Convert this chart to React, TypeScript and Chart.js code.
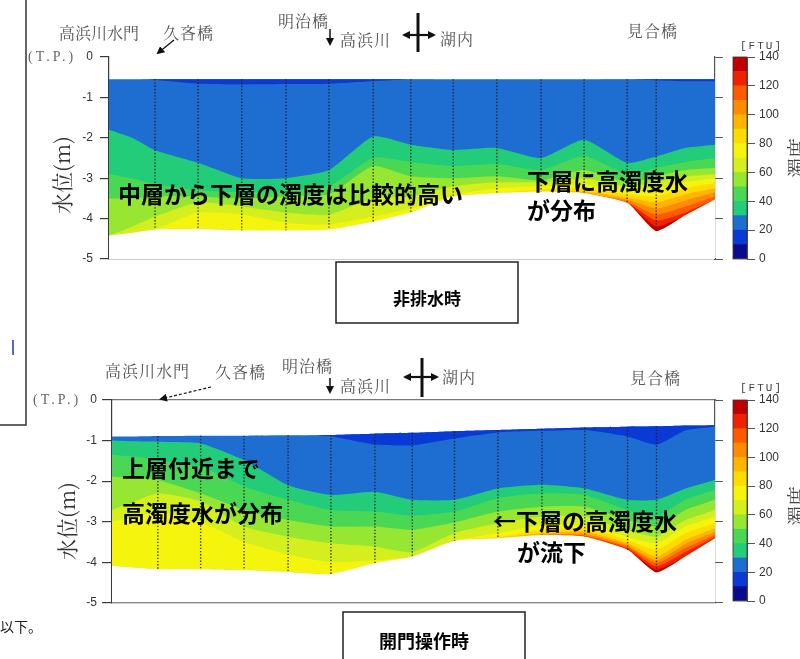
import React, { useEffect, useRef } from "react";
import { Chart, registerables } from "chart.js";

Chart.register(...registerables);

// relative distance along the longitudinal section (0 = left end, 100 = right end)
const sectionX = [0, 3.8, 7.6, 14.7, 21.9, 29.2, 36.3, 43.6, 49.8, 56.8, 64.0, 71.3, 78.4, 85.5, 90.3, 95.1, 100];
// survey stations (dotted verticals) = indexes into sectionX
const stationIndex = [2, 3, 4, 5, 6, 7, 8, 9, 10, 11, 12, 13, 14];

const depthTicks = [0, -1, -2, -3, -4, -5];
const ftuTicks = [0, 20, 40, 60, 80, 100, 120, 140];
const ftuBandLow = [0, 10, 20, 30, 40, 50, 60, 70, 80, 90, 100, 110, 120, 130];
const ftuColors = [
  "#0a0a8c", "#0a3ad6", "#1e6ed2", "#22cc78", "#4ad854", "#96e632", "#d4ee1e",
  "#f4f40c", "#ffdc00", "#ffb400", "#ff8c00", "#ff5a00", "#ee2200", "#c00000",
];

// ---- Panel 1 : 非排水時 (depth T.P. m) ----
const surface1 = [-0.55, -0.55, -0.55, -0.55, -0.55, -0.55, -0.55, -0.55, -0.55, -0.55, -0.55, -0.55, -0.55, -0.55, -0.55, -0.55, -0.55];
const bed1 = [-4.42, -4.35, -4.27, -4.26, -4.29, -4.29, -4.27, -4.07, -3.84, -3.45, -3.37, -3.33, -3.37, -3.61, -4.31, -3.92, -3.53];
const dark1 = [-0.55, -0.55, -0.57, -0.66, -0.68, -0.67, -0.66, -0.6, -0.56, -0.55, -0.55, -0.55, -0.55, -0.56, -0.58, -0.6, -0.6];
const b30_1 = [-1.8, -2.0, -2.31, -2.62, -3.0, -3.0, -2.8, -1.97, -2.17, -2.3, -2.25, -2.5, -2.05, -2.62, -2.46, -2.25, -2.17];
const b40_1 = [-2.9, -3.0, -3.15, -3.3, -3.35, -3.3, -3.2, -2.5, -2.6, -2.7, -2.65, -2.8, -2.45, -2.9, -2.75, -2.6, -2.5];
const b50_1 = [-3.5, -3.5, -3.45, -3.45, -3.5, -3.45, -3.4, -2.7, -2.95, -3.0, -2.95, -3.05, -2.8, -3.1, -2.95, -2.8, -2.75];
const b60_1 = [-4.42, -4.2, -3.95, -3.6, -3.7, -3.85, -3.9, -3.5, -3.45, -3.2, -3.1, -3.1, -3.0, -3.2, -3.1, -2.95, -2.9];
const b70_1 = [-4.42, -4.35, -4.27, -3.85, -3.9, -4.1, -4.15, -3.95, -3.75, -3.42, -3.25, -3.2, -3.15, -3.3, -3.25, -3.1, -3.0];
const b80_1 = [-4.42, -4.35, -4.27, -4.26, -4.29, -4.29, -4.27, -4.07, -3.84, -3.45, -3.37, -3.28, -3.25, -3.4, -3.45, -3.25, -3.12];
const b90_1 = [-4.42, -4.35, -4.27, -4.26, -4.29, -4.29, -4.27, -4.07, -3.84, -3.45, -3.37, -3.33, -3.33, -3.48, -3.6, -3.4, -3.25];
const b100_1 = [-4.42, -4.35, -4.27, -4.26, -4.29, -4.29, -4.27, -4.07, -3.84, -3.45, -3.37, -3.33, -3.37, -3.53, -3.75, -3.55, -3.35];
const b110_1 = [-4.42, -4.35, -4.27, -4.26, -4.29, -4.29, -4.27, -4.07, -3.84, -3.45, -3.37, -3.33, -3.37, -3.58, -3.9, -3.7, -3.45];
const b120_1 = [-4.42, -4.35, -4.27, -4.26, -4.29, -4.29, -4.27, -4.07, -3.84, -3.45, -3.37, -3.33, -3.37, -3.61, -4.05, -3.85, -3.53];
const b130_1 = [-4.42, -4.35, -4.27, -4.26, -4.29, -4.29, -4.27, -4.07, -3.84, -3.45, -3.37, -3.33, -3.37, -3.61, -4.2, -3.92, -3.53];

// ---- Panel 2 : 開門操作時 ----
const surface2 = [-0.9, -0.9, -0.89, -0.88, -0.88, -0.87, -0.86, -0.83, -0.81, -0.77, -0.74, -0.71, -0.68, -0.66, -0.65, -0.63, -0.62];
const bed2 = [-4.09, -4.13, -4.17, -4.17, -4.19, -4.24, -4.29, -4.02, -3.86, -3.47, -3.41, -3.33, -3.37, -3.69, -4.25, -3.86, -3.41];
const dark2 = [-0.9, -0.9, -0.89, -0.88, -0.88, -0.87, -0.9, -1.1, -1.12, -0.95, -0.8, -0.76, -0.74, -0.9, -1.1, -0.75, -0.66];
const b30_2 = [-1.0, -1.02, -1.03, -1.07, -1.48, -2.1, -2.34, -2.26, -2.46, -2.46, -2.18, -2.09, -2.18, -2.46, -2.46, -2.18, -1.97];
const b40_2 = [-1.35, -1.4, -1.48, -1.64, -2.13, -2.46, -2.71, -2.75, -2.85, -2.75, -2.42, -2.3, -2.34, -2.71, -2.87, -2.46, -2.22];
const b50_2 = [-1.89, -1.92, -1.97, -2.3, -2.71, -2.96, -3.12, -3.12, -3.2, -3.02, -2.75, -2.63, -2.63, -2.96, -3.12, -2.71, -2.46];
const b60_2 = [-2.71, -2.5, -2.3, -2.5, -3.12, -3.37, -3.53, -3.61, -3.75, -3.28, -3.04, -2.87, -2.87, -3.2, -3.37, -2.96, -2.71];
const b70_2 = [-3.0, -2.9, -2.75, -3.0, -3.5, -3.8, -4.0, -3.95, -3.86, -3.47, -3.28, -3.08, -3.08, -3.37, -3.53, -3.12, -2.87];
const b80_2 = [-4.09, -4.13, -4.17, -4.17, -4.19, -4.24, -4.29, -4.02, -3.86, -3.47, -3.38, -3.2, -3.16, -3.45, -3.69, -3.28, -3.04];
const b90_2 = [-4.09, -4.13, -4.17, -4.17, -4.19, -4.24, -4.29, -4.02, -3.86, -3.47, -3.41, -3.28, -3.24, -3.53, -3.86, -3.45, -3.16];
const b100_2 = [-4.09, -4.13, -4.17, -4.17, -4.19, -4.24, -4.29, -4.02, -3.86, -3.47, -3.41, -3.33, -3.3, -3.58, -3.95, -3.55, -3.25];
const b110_2 = [-4.09, -4.13, -4.17, -4.17, -4.19, -4.24, -4.29, -4.02, -3.86, -3.47, -3.41, -3.33, -3.34, -3.62, -4.02, -3.65, -3.32];
const b120_2 = [-4.09, -4.13, -4.17, -4.17, -4.19, -4.24, -4.29, -4.02, -3.86, -3.47, -3.41, -3.33, -3.37, -3.66, -4.1, -3.75, -3.38];
const b130_2 = [-4.09, -4.13, -4.17, -4.17, -4.19, -4.24, -4.29, -4.02, -3.86, -3.47, -3.41, -3.33, -3.37, -3.69, -4.18, -3.86, -3.41];

const levels1 = [b30_1, b40_1, b50_1, b60_1, b70_1, b80_1, b90_1, b100_1, b110_1, b120_1, b130_1];
const levels2 = [b30_2, b40_2, b50_2, b60_2, b70_2, b80_2, b90_2, b100_2, b110_2, b120_2, b130_2];

const AXIS = "#3a3a3a";
const TICK_FONT = { family: "'Liberation Sans', Arial, sans-serif", size: 12 };
const TENSION = 0.18;

type PanelProps = {
  top: number; width: number; height: number;
  areaTop: number; areaBottom: number; areaLeft: number; areaRight: number;
  surface: number[]; bed: number[]; dark: number[]; levels: number[][];
  topBorder: boolean; tickLen: number; tickPad: number;
};

function ContourPanel(p: PanelProps) {
  const ref = useRef<HTMLCanvasElement>(null);
  useEffect(() => {
    const pts = (arr: number[]) => arr.map((y, i) => ({ x: sectionX[i], y }));
    const bedIndex = 2 + p.levels.length;
    const ds: any[] = [];
    ds.push({ data: pts(p.surface), fill: { target: bedIndex }, backgroundColor: ftuColors[2], borderWidth: 0 });
    ds.push({ data: pts(p.dark), fill: "-1", backgroundColor: ftuColors[1], borderWidth: 0 });
    p.levels.forEach((lv, k) =>
      ds.push({ data: pts(lv), fill: { target: bedIndex }, backgroundColor: ftuColors[3 + k], borderWidth: 0 })
    );
    ds.push({ data: pts(p.bed), fill: "start", backgroundColor: "#ffffff", borderWidth: 0 });
    stationIndex.forEach((i) =>
      ds.push({
        data: [{ x: sectionX[i], y: p.surface[i] }, { x: sectionX[i], y: p.bed[i] }],
        fill: false, borderColor: "rgba(30,30,30,0.85)", borderWidth: 1.4, borderDash: [1.4, 1.8],
      })
    );
    ds.forEach((d, i) => { d.order = -i; d.pointRadius = 0; d.pointHoverRadius = 0; d.tension = i <= bedIndex ? TENSION : 0; });

    const chart = new Chart(ref.current!, {
      type: "line",
      data: { datasets: ds },
      options: {
        animation: false, responsive: false, maintainAspectRatio: false, events: [],
        layout: { padding: { top: p.areaTop, bottom: p.height - p.areaBottom, left: 0, right: 0 } },
        plugins: { legend: { display: false }, tooltip: { enabled: false } },
        scales: {
          x: {
            type: "linear", min: 0, max: 100, position: "bottom", z: 2,
            ticks: { display: false }, grid: { display: false },
            border: { display: true, color: AXIS, width: 1.2 },
            afterFit: (s: any) => { s.height = 0; },
          },
          xTop: {
            type: "linear", min: 0, max: 100, position: "top", z: 2,
            ticks: { display: false }, grid: { display: false },
            border: { display: p.topBorder, color: "#777", width: 1.2 },
            afterFit: (s: any) => { s.height = 0; },
          },
          y: {
            type: "linear", min: -5, max: 0, position: "left", z: 2,
            afterBuildTicks: (s: any) => { s.ticks = depthTicks.map((v) => ({ value: v })); },
            ticks: { color: "#333", font: TICK_FONT, padding: p.tickPad },
            grid: { drawOnChartArea: false, tickLength: p.tickLen, color: AXIS, lineWidth: 1.2 },
            border: { display: true, color: AXIS, width: 1.2 },
            afterFit: (s: any) => { s.width = p.areaLeft; },
          },
          yRight: {
            type: "linear", min: -5, max: 0, position: "right", z: 2,
            afterBuildTicks: (s: any) => { s.ticks = depthTicks.map((v) => ({ value: v })); },
            ticks: { display: false },
            grid: { drawOnChartArea: false, tickLength: 8, color: "#555", lineWidth: 1 },
            border: { display: true, color: "#555", width: 1.2 },
            afterFit: (s: any) => { s.width = p.width - p.areaRight; },
          },
        },
      } as any,
    });
    return () => chart.destroy();
  }, []);
  return (
    <canvas ref={ref} width={p.width} height={p.height}
      style={{ position: "absolute", left: 0, top: p.top, width: p.width, height: p.height }} />
  );
}

function ColorBar({ top, height, areaTop, areaBottom }: { top: number; height: number; areaTop: number; areaBottom: number }) {
  const ref = useRef<HTMLCanvasElement>(null);
  const left = 720, width = 80, barLeft = 733, barRight = 747;
  useEffect(() => {
    const chart = new Chart(ref.current!, {
      type: "bar",
      data: {
        labels: ["FTU"],
        datasets: ftuColors.map((c, i) => ({
          data: [(i < ftuBandLow.length - 1 ? ftuBandLow[i + 1] : 140) - ftuBandLow[i]],
          backgroundColor: c, borderWidth: 0, barPercentage: 1, categoryPercentage: 1,
        })),
      },
      options: {
        animation: false, responsive: false, maintainAspectRatio: false, events: [],
        layout: { padding: { top: areaTop, bottom: height - areaBottom, left: barLeft - left, right: 0 } },
        plugins: { legend: { display: false }, tooltip: { enabled: false } },
        scales: {
          x: { stacked: true, display: false },
          y: {
            stacked: true, min: 0, max: 140, position: "right",
            afterBuildTicks: (s: any) => { s.ticks = ftuTicks.map((v) => ({ value: v })); },
            ticks: { color: "#333", font: TICK_FONT, padding: 4 },
            grid: { drawOnChartArea: false, tickLength: 8, color: "#555" },
            border: { display: true, color: "#555", width: 1 },
            afterFit: (s: any) => { s.width = width - (barRight - left); },
          },
        },
      } as any,
    });
    return () => chart.destroy();
  }, []);
  return (
    <canvas ref={ref} width={width} height={height}
      style={{ position: "absolute", left, top, width, height }} />
  );
}

function T({ x, y, text, size = 16, weight = 400, color = "#555", family = "'Noto Sans CJK JP', sans-serif", ls = 0, rotate = false }: any) {
  const style: any = {
    position: "absolute", left: x, top: y, fontSize: size, fontWeight: weight, color, fontFamily: family,
    lineHeight: 1, whiteSpace: "nowrap", letterSpacing: ls,
    transform: rotate ? "translate(-50%,-50%) rotate(-90deg)" : "translateY(-50%)",
  };
  return <div style={style}>{text}</div>;
}

const BOLD = "'Noto Sans CJK JP', sans-serif";
const MINCHO = "'Noto Serif CJK JP', 'Liberation Serif', serif";

export default function App() {
  return (
    <div style={{ position: "absolute", left: 0, top: 0, width: 800, height: 659, overflow: "hidden", background: "#fff" }}>
      <ContourPanel top={0} width={740} height={275} areaTop={57} areaBottom={259} areaLeft={109} areaRight={715}
        surface={surface1} bed={bed1} dark={dark1} levels={levels1} topBorder={false} tickLen={9} tickPad={7} />
      <ContourPanel top={340} width={740} height={275} areaTop={60} areaBottom={263} areaLeft={112} areaRight={715}
        surface={surface2} bed={bed2} dark={dark2} levels={levels2} topBorder={true} tickLen={10} tickPad={5} />
      <ColorBar top={40} height={240} areaTop={17} areaBottom={219} />
      <ColorBar top={380} height={240} areaTop={20} areaBottom={221} />

      <svg width={800} height={659} style={{ position: "absolute", left: 0, top: 0, pointerEvents: "none" }}>
        <defs>
          <marker id="ah" markerWidth="8" markerHeight="8" refX="6" refY="4" orient="auto" markerUnits="userSpaceOnUse">
            <path d="M0,0 L8,4 L0,8 z" fill="#111" />
          </marker>
          <marker id="ahs" markerWidth="8" markerHeight="8" refX="6" refY="4" orient="auto-start-reverse" markerUnits="userSpaceOnUse">
            <path d="M0,0 L8,4 L0,8 z" fill="#111" />
          </marker>
        </defs>
        <polyline points="26,0 26,425 0,425" fill="none" stroke="#333" strokeWidth={1.5} />
        <line x1={13} y1={340} x2={13} y2={355} stroke="#5566cc" strokeWidth={2} />
        <rect x={733} y={57} width={14} height={202} fill="none" stroke="#333" strokeWidth={0.8} />
        <rect x={733} y={400} width={14} height={201} fill="none" stroke="#333" strokeWidth={0.8} />
        {/* panel 1 markers */}
        <line x1={174} y1={40} x2={158} y2={53} stroke="#111" strokeWidth={1.3} markerEnd="url(#ah)" />
        <line x1={330} y1={29} x2={330} y2={44} stroke="#111" strokeWidth={1.5} markerEnd="url(#ah)" />
        <line x1={418} y1={13} x2={418} y2={52} stroke="#111" strokeWidth={3} />
        <line x1={404} y1={35} x2={434} y2={35} stroke="#111" strokeWidth={2.2} markerStart="url(#ahs)" markerEnd="url(#ah)" />
        {/* panel 2 markers */}
        <line x1={211} y1={387} x2={161} y2={399} stroke="#111" strokeWidth={1.2} strokeDasharray="3,2" markerEnd="url(#ah)" />
        <line x1={330} y1={378} x2={330} y2={392} stroke="#111" strokeWidth={1.5} markerEnd="url(#ah)" />
        <line x1={422} y1={358} x2={422} y2={397} stroke="#111" strokeWidth={3} />
        <line x1={405} y1={377} x2={437} y2={377} stroke="#111" strokeWidth={2.2} markerStart="url(#ahs)" markerEnd="url(#ah)" />
        {/* caption boxes */}
        <rect x={336} y={262} width={182} height={61} fill="#fff" stroke="#222" strokeWidth={1.5} />
        <rect x={343} y={612} width={182} height={60} fill="#fff" stroke="#222" strokeWidth={1.5} />
      </svg>

      {/* panel 1 labels */}
      <T x={59} y={33} text="高浜川水門" family={MINCHO} />
      <T x={163} y={33} text="久吝橋" family={MINCHO} ls={1} />
      <T x={278} y={21} text="明治橋" family={MINCHO} ls={1} />
      <T x={340} y={40} text="高浜川" family={MINCHO} ls={1} />
      <T x={440} y={39} text="湖内" family={MINCHO} ls={1} />
      <T x={627} y={31} text="見合橋" family={MINCHO} ls={1} />
      <T x={28} y={57} text="(T.P.)" size={14} family="'Liberation Serif', serif" color="#666" ls={3} />
      <T x={740} y={46} text="[FTU]" size={11} family="'Liberation Mono', monospace" color="#444" ls={2} />
      <T x={797} y={158} text="濁度" size={20} family={MINCHO} rotate color="#444" />
      <T x={61} y={175} text="水位(m)" size={21} family={MINCHO} rotate color="#333" />
      <T x={118} y={193} text="中層から下層の濁度は比較的高い" size={23} weight={700} color="#000" family={BOLD} />
      <T x={527} y={180} text="下層に高濁度水" size={23} weight={700} color="#000" family={BOLD} />
      <T x={527} y={209} text="が分布" size={23} weight={700} color="#000" family={BOLD} />
      <T x={393} y={297} text="非排水時" size={17} weight={700} color="#000" family={BOLD} />

      {/* panel 2 labels */}
      <T x={105} y={371} text="高浜川水門" family={MINCHO} ls={1} />
      <T x={215} y={372} text="久吝橋" family={MINCHO} ls={1} />
      <T x={282} y={366} text="明治橋" family={MINCHO} ls={1} />
      <T x={340} y={386} text="高浜川" family={MINCHO} ls={1} />
      <T x={442} y={377} text="湖内" family={MINCHO} ls={1} />
      <T x={630} y={378} text="見合橋" family={MINCHO} ls={1} />
      <T x={33} y={400} text="(T.P.)" size={14} family="'Liberation Serif', serif" color="#666" ls={3} />
      <T x={740} y={388} text="[FTU]" size={11} family="'Liberation Mono', monospace" color="#444" ls={2} />
      <T x={797} y={506} text="濁度" size={20} family={MINCHO} rotate color="#444" />
      <T x={66} y={521} text="水位(m)" size={21} family={MINCHO} rotate color="#333" />
      <T x={122} y={467} text="上層付近まで" size={23} weight={700} color="#000" family={BOLD} />
      <T x={122} y={512} text="高濁度水が分布" size={23} weight={700} color="#000" family={BOLD} />
      <T x={493} y={520} text="←下層の高濁度水" size={23} weight={700} color="#000" family={BOLD} />
      <T x={517} y={551} text="が流下" size={23} weight={700} color="#000" family={BOLD} />
      <T x={379} y={640} text="開門操作時" size={18} weight={700} color="#000" family={BOLD} />

      <T x={0} y={626} text="以下。" size={14} color="#222" family={BOLD} />
    </div>
  );
}
